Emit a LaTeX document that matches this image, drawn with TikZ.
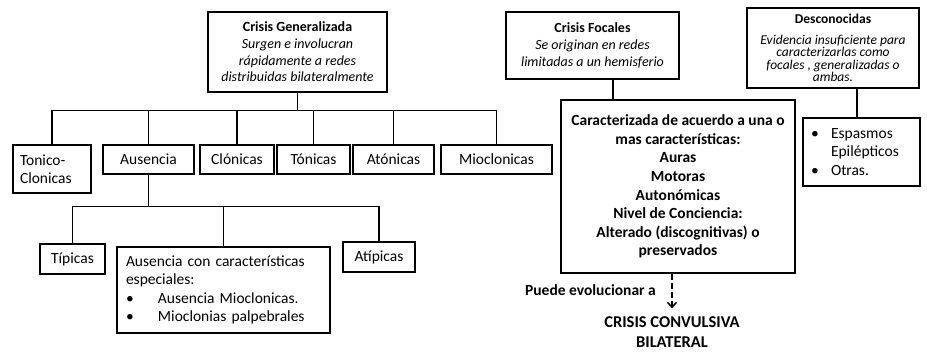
\documentclass[tikz,border=0pt]{standalone}
\usepackage{fontspec}
\setmainfont{Carlito}
\usetikzlibrary{arrows.meta}
\tikzset{
    box/.style={draw, line width=1.5pt, align=center, inner sep=3pt,
        font=\fontsize{15.5}{18.3}\selectfont},
    head/.style={box, font=\fontsize{14}{16.7}\selectfont},
    kind/.style={box, minimum height=29},
    link/.style={line width=1.5pt},
    evolve/.style={-{Straight Barb[length=5pt,width=9pt]}, line width=1.5pt, dash pattern=on 6pt off 3pt}
}
\newcommand{\itembul}[1]{\makebox[#1][l]{\textbullet}}

\begin{document}
\begin{tikzpicture}[x=1pt, y=-1pt]
    \useasboundingbox (0,0) rectangle (927,358);

    % Crisis generalizadas
    \node[head, minimum width=179, minimum height=80] (gen) at (297.5,52)
        {\textbf{Crisis Generalizada}\\ \itshape Surgen e involucran\\ \itshape rápidamente a redes\\ \itshape distribuidas bilateralmente};
    \node[box, align=left, minimum width=78, minimum height=48, text width=64] (toc) at (52,169) {Tonico-\\Clonicas};
    \node[kind, minimum width=91] (aus) at (148.5,159.5) {Ausencia};
    \node[kind, minimum width=74] (clo) at (237,159.5) {Clónicas};
    \node[kind, minimum width=73] (ton) at (313.5,159.5) {Tónicas};
    \node[kind, minimum width=81] (ato) at (393.5,159.5) {Atónicas};
    \node[kind, minimum width=111] (mio) at (496.5,159.5) {Mioclonicas};

    \draw[link] (gen.south) -- ++(0,18) coordinate (bus);
    \foreach \k in {toc, aus, clo, ton, ato, mio}
        \draw[link] (\k.north) |- (bus);

    % Ausencias
    \node[kind, minimum width=65, minimum height=30] (tip) at (72.5,259) {Típicas};
    \node[box, align=left, text width=195, inner xsep=9, minimum height=86] (esp) at (223.5,290)
        {Ausencia con características\\ especiales:\\ \itembul{32pt}Ausencia Mioclonicas.\\ \itembul{32pt}Mioclonias palpebrales};
    \node[kind, minimum width=72, minimum height=30] (atp) at (379,257) {Atípicas};

    \draw[link] (aus.south) -- ++(0,32) coordinate (bus2);
    \foreach \k in {tip, esp, atp}
        \draw[link] (\k.north) |- (bus2);

    % Crisis focales
    \node[head, minimum width=173, minimum height=67] (foc) at (592.5,45.5)
        {\textbf{Crisis Focales}\\ \itshape Se originan en redes\\ \itshape limitadas a un hemisferio};
    \node[box, minimum width=234, minimum height=173, font=\fontsize{15.5}{18.6}\selectfont\bfseries] (car) at (678,186.5)
        {Caracterizada de acuerdo a una o\\ mas características:\\ Auras\\ Motoras\\ Autonómicas\\ Nivel de Conciencia:\\ Alterado (discognitivas) o\\ preservados};
    \draw[link] ([xshift=20.5pt]foc.south) -- ([xshift=20.5pt]foc.south |- car.north);

    \node[font=\fontsize{16.5}{20}\selectfont\bfseries, align=center, inner sep=0pt] (ccb) at (672,332)
        {CRISIS CONVULSIVA\\ BILATERAL};
    \draw[evolve] ([xshift=-6pt]car.south) -- ([yshift=8pt]ccb.north -| 672,0);
    \node[font=\fontsize{15.5}{18}\selectfont\bfseries, anchor=east, inner sep=0pt] (pev) at (656,290) {Puede evolucionar a};

    % Desconocidas
    \node[box, minimum width=172, minimum height=80, font=\fontsize{13.5}{12.6}\selectfont] (des) at (833,48)
        {\textbf{Desconocidas}\\[8pt] \itshape Evidencia insuficiente para\\ \itshape caracterizarlas como\\ \itshape focales , generalizadas o\\ \itshape ambas.};
    \node[box, align=left, text width=101, inner xsep=8, minimum height=68] (otr) at (861.5,152)
        {\itembul{20pt}Espasmos\\ \hspace*{20pt}Epilépticos\\ \itembul{20pt}Otras.};
    \draw[link] ([xshift=24pt]des.south) -- ([xshift=24pt]des.south |- otr.north);
\end{tikzpicture}
\end{document}
